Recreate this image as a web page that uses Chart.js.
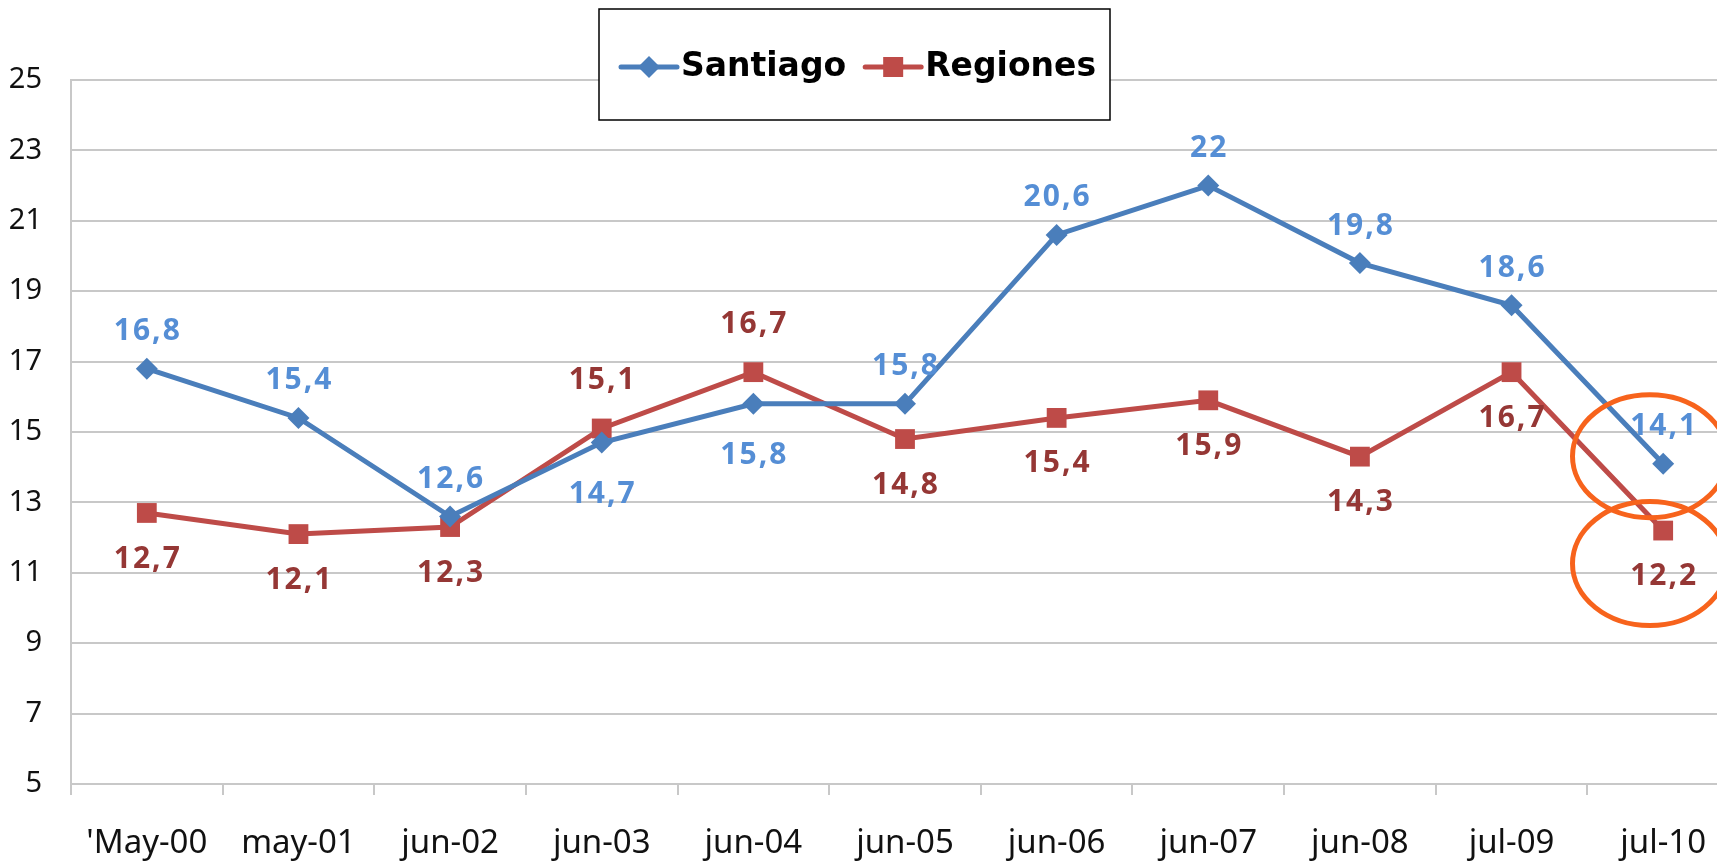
<!DOCTYPE html>
<html><head><meta charset="utf-8">
<script src="https://cdn.jsdelivr.net/npm/chart.js@4.4.0/dist/chart.umd.min.js"></script>
<style>
html,body{margin:0;padding:0;background:#fff;overflow:hidden;}
canvas{display:block;}
</style></head><body>
<canvas id="c" width="1739" height="861" style="width:1739px;height:861px"></canvas>
<script>
const categories = ["'May-00","may-01","jun-02","jun-03","jun-04","jun-05","jun-06","jun-07","jun-08","jul-09","jul-10"];
const santiago = [16.8,15.4,12.6,14.7,15.8,15.8,20.6,22,19.8,18.6,14.1];
const regiones = [12.7,12.1,12.3,15.1,16.7,14.8,15.4,15.9,14.3,16.7,12.2];
const seriesNames = ["Santiago","Regiones"];
const yTickValues = [5,7,9,11,13,15,17,19,21,23,25];
const santiagoLabelSide = ['above','above','above','below','below','above','above','above','above','above','above'];
const regionesLabelSide = ['below','below','below','above','above','below','below','below','below','below','below'];
const highlightIndex = 10;

const fmt = v => String(v).replace('.', ',');
const GRID = '#C8C8C8';

const dataLabelPlugin = {
  id: 'dataLabels',
  afterDatasetsDraw(chart) {
    const ctx = chart.ctx;
    const cfg = [
      {sides: santiagoLabelSide, color: '#558ED5', above: -37, below: 52},
      {sides: regionesLabelSide, color: '#953735', above: -48, below: 46}
    ];
    ctx.save();
    ctx.font = 'bold 30px "Noto Sans"';
    try { ctx.letterSpacing = '2px'; } catch (e) {}
    ctx.textAlign = 'center';
    ctx.textBaseline = 'middle';
    chart.data.datasets.forEach((ds, i) => {
      const meta = chart.getDatasetMeta(i);
      const c = cfg[i];
      ctx.fillStyle = c.color;
      meta.data.forEach((pt, j) => {
        const off = c.sides[j] === 'above' ? c.above : c.below;
        ctx.fillText(fmt(ds.data[j]), pt.x + 1, pt.y + off);
      });
    });
    ctx.restore();
  }
};

const highlightPlugin = {
  id: 'highlight',
  afterDraw(chart) {
    const ctx = chart.ctx;
    const xs = chart.scales.x, ys = chart.scales.y;
    const catW = xs.getPixelForValue(1) - xs.getPixelForValue(0);
    const cx = xs.getPixelForValue(highlightIndex) - catW * 0.088;
    const rx = catW * 0.51;
    ctx.save();
    ctx.strokeStyle = '#F7631C';
    ctx.lineWidth = 5;
    ctx.beginPath();
    ctx.ellipse(cx, ys.getPixelForValue(santiago[highlightIndex]) - 7.5, rx, 61.5, 0, 0, Math.PI * 2);
    ctx.stroke();
    ctx.beginPath();
    ctx.ellipse(cx, ys.getPixelForValue(regiones[highlightIndex]) + 33, rx, 62, 0, 0, Math.PI * 2);
    ctx.stroke();
    ctx.restore();
  }
};

const legendPlugin = {
  id: 'boxLegend',
  afterDraw(chart) {
    const ctx = chart.ctx;
    const box = {x: 599, y: 9, w: 511, h: 111};
    ctx.save();
    ctx.fillStyle = '#fff';
    ctx.fillRect(box.x, box.y, box.w, box.h);
    ctx.strokeStyle = '#000';
    ctx.lineWidth = 1.5;
    ctx.strokeRect(box.x, box.y, box.w, box.h);
    const cy = box.y + 58;
    let x = 621;
    ctx.font = 'bold 33px "DejaVu Sans"';
    ctx.textBaseline = 'middle';
    chart.data.datasets.forEach((ds, i) => {
      ctx.strokeStyle = ds.borderColor;
      ctx.lineWidth = 5;
      ctx.lineCap = 'round';
      ctx.beginPath();
      ctx.moveTo(x, cy); ctx.lineTo(x + 56, cy);
      ctx.stroke();
      ctx.fillStyle = ds.pointBackgroundColor;
      const mx = x + 28;
      ctx.beginPath();
      if (ds.pointStyle === 'rectRot') {
        ctx.moveTo(mx - 11, cy); ctx.lineTo(mx, cy - 11); ctx.lineTo(mx + 11, cy); ctx.lineTo(mx, cy + 11);
      } else {
        ctx.rect(mx - 10, cy - 10, 20, 20);
      }
      ctx.closePath();
      ctx.fill();
      ctx.fillStyle = '#000';
      ctx.textAlign = 'left';
      const label = seriesNames[i];
      ctx.fillText(label, x + 60, cy);
      x = x + 60 + ctx.measureText(label).width + 19;
    });
    ctx.restore();
  }
};

new Chart(document.getElementById('c'), {
  type: 'line',
  data: {
    labels: categories,
    datasets: [
      {label: seriesNames[0], data: santiago, borderColor: '#4A7EBB', backgroundColor: '#4A7EBB',
       pointBackgroundColor: '#4A7EBB', pointBorderColor: '#4A7EBB', borderWidth: 5,
       pointStyle: 'rectRot', pointRadius: 11, pointHoverRadius: 11, pointBorderWidth: 0, tension: 0, clip: false},
      {label: seriesNames[1], data: regiones, borderColor: '#BE4B48', backgroundColor: '#BE4B48',
       pointBackgroundColor: '#BE4B48', pointBorderColor: '#BE4B48', borderWidth: 5,
       pointStyle: 'rect', pointRadius: 14, pointHoverRadius: 14, pointBorderWidth: 0, tension: 0, clip: false}
    ]
  },
  options: {
    responsive: false,
    animation: false,
    devicePixelRatio: 1,
    events: [],
    layout: {autoPadding: false, padding: {top: 80, left: 0, right: 0, bottom: 0}},
    plugins: {legend: {display: false}, tooltip: {enabled: false}},
    scales: {
      x: {
        offset: true,
        grid: {offset: true, drawOnChartArea: false, drawTicks: true, tickLength: 11, color: GRID, lineWidth: 2},
        border: {display: true, color: GRID, width: 2},
        ticks: {color: '#111', font: {family: 'Noto Sans', size: 33}, padding: 29, maxRotation: 0, autoSkip: false},
        afterFit(s) { s.height = 77; s.paddingLeft = 0; s.paddingRight = 0; }
      },
      y: {
        min: 5, max: 25,
        afterBuildTicks(s) { s.ticks = yTickValues.map(v => ({value: v})); },
        grid: {color: GRID, lineWidth: 2, drawTicks: false},
        border: {display: true, color: GRID, width: 2},
        ticks: {color: '#111', font: {family: 'Noto Sans', size: 29}, padding: 29},
        afterFit(s) { s.width = 71; s.paddingTop = 0; s.paddingBottom = 0; }
      }
    }
  },
  plugins: [dataLabelPlugin, highlightPlugin, legendPlugin]
});
</script>
</body></html>
